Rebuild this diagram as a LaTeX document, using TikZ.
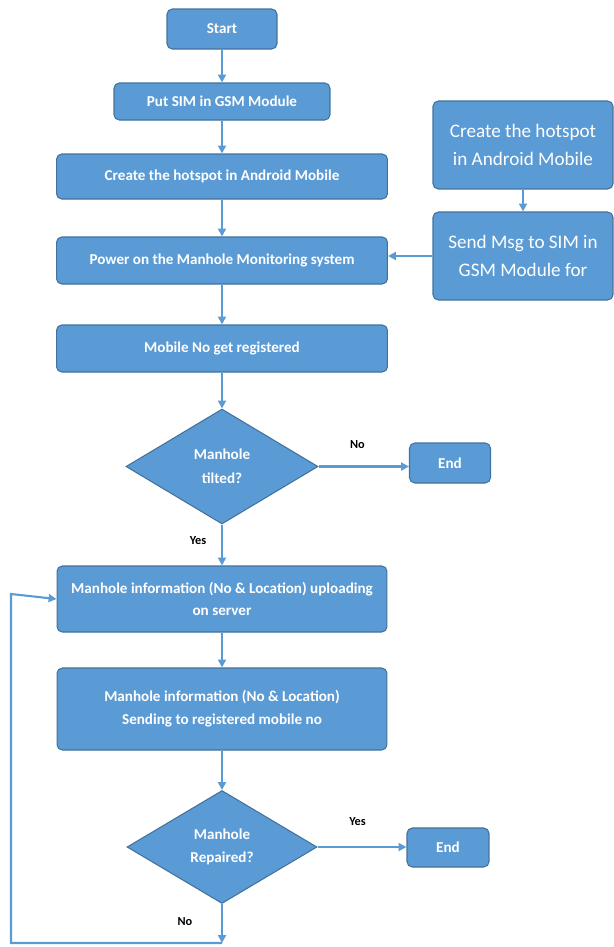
\documentclass[tikz,border=0pt]{standalone}
\usepackage{fontspec}
\setmainfont{Carlito}
\usetikzlibrary{shapes.geometric,arrows.meta}
\definecolor{boxblue}{HTML}{5B9BD5}
\definecolor{edgeblue}{HTML}{41719C}
\begin{document}
\begin{tikzpicture}[x=0.02cm,y=-0.02cm,
    block/.style={draw=edgeblue,line width=0.6pt,fill=boxblue,rounded corners=3pt,
                  text=white,font=\fontsize{8.6}{13}\selectfont\bfseries,align=center,inner sep=0pt},
    sideblock/.style={block,font=\fontsize{10.9}{16.4}\selectfont},
    decision/.style={diamond,draw=edgeblue,line width=0.6pt,fill=boxblue,text=white,
                     font=\fontsize{8.6}{13.5}\selectfont\bfseries,align=center,inner sep=0pt},
    flow/.style={draw=boxblue,line width=1.2pt,-{Triangle[length=4.5pt,width=4.5pt]}},
    tag/.style={font=\fontsize{7}{8}\selectfont\bfseries}]
    \useasboundingbox (0,0) rectangle (614,947);

    \node[block,minimum width=2.2cm,minimum height=0.8cm] (start) at (222,29) {Start};
    \node[block,minimum width=4.32cm,minimum height=0.74cm] (sim) at (222,101.5) {Put SIM in GSM Module};
    \node[block,minimum width=6.62cm,minimum height=0.9cm] (hotspot) at (222,176.5) {Create the hotspot in Android Mobile};
    \node[block,minimum width=6.62cm,minimum height=0.94cm] (power) at (222,260.5) {Power on the Manhole Monitoring system};
    \node[block,minimum width=6.62cm,minimum height=0.94cm] (mobile) at (222,348.5) {Mobile No get registered};
    \node[decision,minimum width=3.84cm,minimum height=2.3cm] (tilted) at (222,466.5) {Manhole\\tilted?};
    \node[block,minimum width=1.62cm,minimum height=0.8cm] (end1) at (450,463) {End};
    \node[block,minimum width=6.6cm,minimum height=1.32cm] (upload) at (222,599) {Manhole information (No \& Location) uploading\\on server};
    \node[block,minimum width=6.6cm,minimum height=1.64cm] (sendmob) at (222,709) {Manhole information (No \& Location)\\Sending to registered mobile no};
    \node[decision,minimum width=3.8cm,minimum height=2.26cm] (repaired) at (222,847) {Manhole\\Repaired?};
    \node[block,minimum width=1.64cm,minimum height=0.78cm] (end2) at (448,847.5) {End};
    \node[sideblock,minimum width=3.6cm,minimum height=1.76cm] (hotspotb) at (523,145) {Create the hotspot\\in Android Mobile};
    \node[sideblock,minimum width=3.6cm,minimum height=1.76cm] (sendmsg) at (523,256) {Send Msg to SIM in\\GSM Module for};

    \coordinate (loopbase) at (222,943);
    \coordinate (loopleft) at (11,943);
    \coordinate (looptop) at (11,594);

    \draw[flow] (start) -- (sim);
    \draw[flow] (sim) -- (hotspot);
    \draw[flow] (hotspot) -- (power);
    \draw[flow] (power) -- (mobile);
    \draw[flow] (mobile) -- (tilted);
    \draw[flow] (tilted.east) -- node[tag,pos=0.43,above=6pt] {No} (tilted.east -| end1.west);
    \draw[flow] (tilted) -- node[tag,pos=0.4,left=5pt] {Yes} (upload);
    \draw[flow] (upload) -- (sendmob);
    \draw[flow] (sendmob) -- (repaired);
    \draw[flow] (repaired.east) -- node[tag,pos=0.45,above=8pt] {Yes} (repaired.east -| end2.west);
    \draw[flow] (repaired) -- node[tag,pos=0.45,left=13pt] {No} (loopbase);
    \draw[flow] (loopbase) -- (loopleft) -- (looptop) -- (upload.west);
    \draw[flow] (hotspotb) -- (sendmsg);
    \draw[flow] (sendmsg.west) -- (sendmsg.west -| power.east);
\end{tikzpicture}
\end{document}
